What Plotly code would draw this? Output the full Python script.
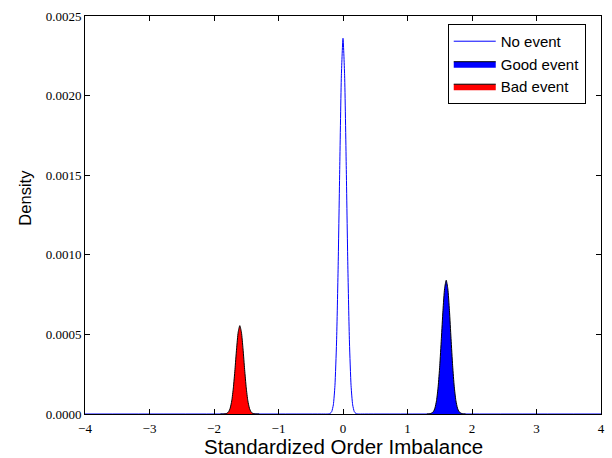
import plotly.graph_objects as go

# Offsets from each curve's centre and densities
offsets = [0.0, 0.025, 0.05, 0.075, 0.1, 0.125, 0.15, 0.175, 0.2, 0.25, 0.3]

no_center = 0.0
no_vals = [0.00236, 0.002128, 0.001561, 0.000931, 0.000452, 0.000178,
           0.0000573, 0.0000150, 0.0000032, 0.0, 0.0]

good_center = 1.6
good_vals = [0.00084, 0.000788, 0.000651, 0.000473, 0.000303, 0.000171,
             0.0000846, 0.0000369, 0.0000142, 0.0000014, 0.0]

bad_center = -1.6
bad_vals = [0.000555, 0.000514, 0.000409, 0.000279, 0.000164, 0.0000824,
            0.0000356, 0.0000132, 0.0000042, 0.0000003, 0.0]

x_range = [-4, 4]
y_range = [0, 0.0025]
x_ticks = [-4, -3, -2, -1, 0, 1, 2, 3, 4]
y_ticks = [0.0, 0.0005, 0.0010, 0.0015, 0.0020, 0.0025]
x_title = "Standardized Order Imbalance"
y_title = "Density"


def build(center, vals, extend=False):
    left = [center - o for o in reversed(offsets[1:])]
    right = [center + o for o in offsets]
    xs = left + right
    ys = list(reversed(vals[1:])) + list(vals)
    if extend:
        xs = [x_range[0]] + xs + [x_range[1]]
        ys = [0.0] + ys + [0.0]
    return xs, ys


fig = go.Figure()

bx, by = build(bad_center, bad_vals)
gx, gy = build(good_center, good_vals)
nx, ny = build(no_center, no_vals, extend=True)

fig.add_trace(go.Scatter(x=nx, y=ny, mode="lines", name="No event",
                         line=dict(color="#0000ff", width=1, shape="spline", smoothing=0.6)))
fig.add_trace(go.Scatter(x=gx, y=gy, mode="lines", name="Good event", fill="tozeroy",
                         fillcolor="#0000ff",
                         line=dict(color="black", width=1, shape="spline", smoothing=0.6)))
fig.add_trace(go.Scatter(x=bx, y=by, mode="lines", name="Bad event", fill="tozeroy",
                         fillcolor="#ff0000",
                         line=dict(color="black", width=1, shape="spline", smoothing=0.6)))

serif = "Liberation Serif"
sans = "Liberation Sans"

fig.update_layout(
    width=612, height=458,
    margin=dict(l=85, r=11, t=16, b=44),
    paper_bgcolor="white", plot_bgcolor="white",
    showlegend=True,
    legend=dict(x=0.703, y=0.98, xanchor="left", yanchor="top",
                bordercolor="black", borderwidth=1, bgcolor="white",
                font=dict(family=sans, size=15, color="black"),
                itemwidth=42, tracegroupgap=0),
    xaxis=dict(range=x_range, tickvals=x_ticks, ticks="inside", ticklen=5,
               tickcolor="black", showline=True, linecolor="black", linewidth=1,
               mirror="ticks", showgrid=False, zeroline=False, automargin=False,
               ticklabelstandoff=2,
               tickfont=dict(family=serif, size=13, color="black")),
    yaxis=dict(range=y_range, tickvals=y_ticks, tickformat=".4f", ticks="inside",
               ticklen=5, tickcolor="black", showline=True, linecolor="black",
               linewidth=1, mirror="ticks", showgrid=False, zeroline=False,
               automargin=False,
               tickfont=dict(family=serif, size=13, color="black")),
    annotations=[
        dict(text=x_title, xref="paper", yref="paper", x=0.5, y=-0.081,
             xanchor="center", yanchor="middle", showarrow=False,
             font=dict(family=sans, size=20.5, color="black")),
        dict(text=y_title, xref="paper", yref="paper", x=-0.116, y=0.544,
             xanchor="center", yanchor="middle", showarrow=False, textangle=-90,
             font=dict(family=sans, size=16.5, color="black")),
    ],
)

fig.write_html("out.html")
